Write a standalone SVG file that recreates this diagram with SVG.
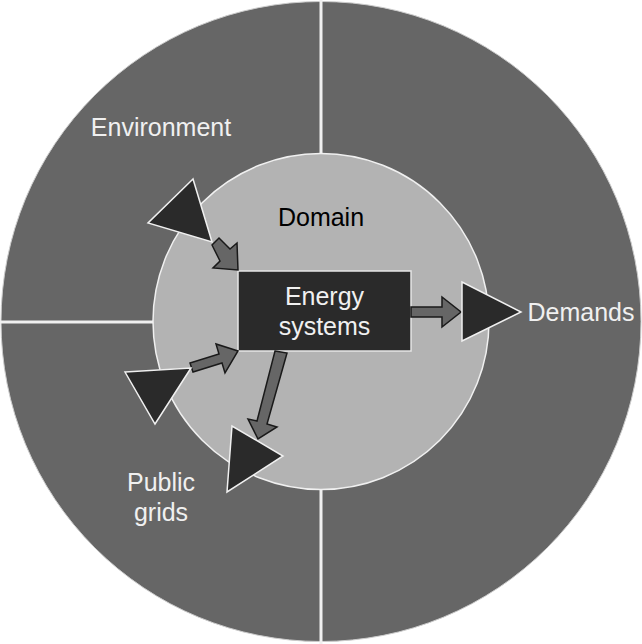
<svg xmlns="http://www.w3.org/2000/svg" width="642" height="644" viewBox="0 0 642 644">
<style>
.lt{font-family:"Liberation Sans",Arial,sans-serif;font-size:25px;fill:#f0f0f0;text-anchor:middle}
.dk{font-family:"Liberation Sans",Arial,sans-serif;font-size:25px;fill:#000;text-anchor:middle}
.arr{fill:#666;stroke:#1a1a1a;stroke-width:1.5;stroke-linejoin:miter}
.tri{fill:#2a2a2a;stroke:#f0f0f0;stroke-width:1.5}
.sep{stroke:#f0f0f0;stroke-width:3}
</style>
<rect width="642" height="644" fill="#fff"/>
<g id="outer">
<circle cx="321" cy="321.5" r="320" fill="#666" stroke="#ccc" stroke-width="1"/>
<line class="sep" x1="321" y1="0" x2="321" y2="644"/>
<line class="sep" x1="0" y1="322" x2="156" y2="322"/>
<text class="lt" x="161" y="136">Environment</text>
<text class="lt" x="581" y="321">Demands</text>
<text class="lt" x="161" y="491">Public</text>
<text class="lt" x="161" y="521">grids</text>
</g>
<g id="domain">
<circle cx="321" cy="321.5" r="168" fill="#b3b3b3" stroke="#f0f0f0" stroke-width="1.5"/>
<text class="dk" x="321" y="226">Domain</text>
</g>
<g id="energy">
<rect x="238" y="271" width="173" height="80" fill="#2a2a2a" stroke="#e6e6e6" stroke-width="1.5"/>
<text class="lt" x="324.5" y="305">Energy</text>
<text class="lt" x="324.5" y="335">systems</text>
</g>
<g id="connectors">
<polygon class="arr" points="212,245 219,238 230,249 237,243 238,270 213,268 220,261"/>
<polygon class="tri" points="193,179 148,223 212,242"/>
<polygon class="arr" points="411,307 442,307 442,297 461,312 442,327 442,317 411,317"/>
<polygon class="tri" points="462,282 462,341 521,312"/>
<polygon class="arr" points="193,372 190,363 219,354 216,344 238,351 225,373 222,363"/>
<polygon class="tri" points="125,372 191,368 155,424"/>
<polygon class="arr" points="275,351 287,353 267,424 277,427 258,439 248,419 257,421"/>
<polygon class="tri" points="232,426 227,492 283,456"/>
</g>
</svg>
